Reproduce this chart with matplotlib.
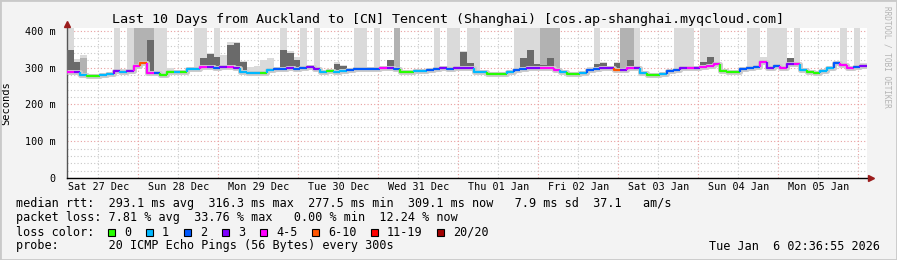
import matplotlib.pyplot as plt
import matplotlib.dates as mdates
from matplotlib.collections import LineCollection
from matplotlib.patches import Rectangle
from datetime import datetime, timedelta

plt.rcParams['font.family'] = ['DejaVu Sans Mono']

# 2-hour bins over the 10 days
start = datetime(2025, 12, 27, 2, 36, 55)
step = timedelta(hours=2)

median = [289, 288, 281, 277.5, 277.5, 281, 283, 291, 289, 290,
          305, 313, 286, 286, 281, 288, 289, 289, 296, 297,
          301, 302, 300, 302, 302, 298, 289, 286, 286, 286,
          295, 296, 296, 298, 297, 299, 301, 296, 287, 290,
          289, 290, 295, 297, 297, 297, 297, 300, 300, 296,
          287, 288, 290, 291, 294, 297, 299, 297, 299, 300,
          298, 289, 288, 283, 283, 284, 288, 293, 296, 299,
          299, 299, 299, 293, 288, 283, 283, 286, 293, 296,
          299, 299, 294, 295, 299, 298, 285, 280, 280, 284,
          290, 295, 299, 299, 299, 303, 305, 310, 290, 288,
          287, 296, 300, 303, 316, 300, 304, 300, 309, 311,
          293, 288, 286, 292, 299, 312, 308, 300, 302, 306]

# loss colour class per bin (index into loss_colors)
loss = [4, 3, 1, 0, 0, 1, 1, 3, 1, 3,
        4, 5, 4, 2, 0, 0, 1, 0, 1, 1,
        4, 3, 2, 3, 4, 3, 1, 1, 1, 0,
        1, 2, 2, 3, 2, 2, 3, 3, 1, 0,
        1, 1, 2, 2, 2, 2, 2, 4, 3, 2,
        0, 0, 1, 1, 2, 2, 3, 2, 3, 3,
        3, 1, 1, 0, 0, 0, 1, 2, 2, 3,
        3, 4, 4, 4, 1, 0, 0, 1, 2, 2,
        3, 3, 5, 3, 4, 3, 1, 0, 0, 1,
        2, 2, 3, 4, 3, 4, 4, 4, 0, 0,
        0, 2, 2, 2, 4, 3, 2, 4, 3, 4,
        1, 0, 0, 1, 1, 2, 4, 4, 2, 3]

# top of light smoke (highest pings)
smoke_hi = [420, 325, 335, 283, 283, 286, 288, 420, 296, 420,
            420, 420, 420, 420, 420, 300, 295, 294, 301, 420,
            420, 340, 420, 335, 370, 370, 318, 302, 305, 320,
            326, 300, 420, 345, 328, 420, 306, 420, 292, 296,
            315, 307, 300, 420, 420, 302, 420, 305, 322, 420,
            292, 293, 295, 296, 299, 420, 304, 420, 420, 345,
            420, 420, 293, 288, 288, 289, 293, 420, 420, 420,
            420, 420, 420, 420, 293, 288, 288, 291, 302, 420,
            315, 304, 315, 420, 420, 420, 290, 285, 285, 289,
            295, 420, 420, 420, 304, 420, 420, 420, 296, 293,
            292, 302, 420, 420, 330, 420, 420, 420, 327, 420,
            299, 293, 291, 297, 304, 317, 420, 306, 420, 312]

# top of medium-grey smoke (0 = none)
smoke_mid = [0, 0, 326, 0, 0, 0, 0, 0, 0, 0,
             420, 420, 420, 0, 0, 0, 0, 0, 0, 0,
             0, 0, 0, 0, 0, 0, 0, 0, 0, 0,
             0, 0, 0, 0, 0, 0, 0, 0, 0, 0,
             0, 0, 0, 0, 0, 0, 0, 0, 0, 420,
             0, 0, 0, 0, 0, 0, 0, 0, 0, 0,
             0, 0, 0, 0, 0, 0, 0, 0, 0, 0,
             0, 420, 420, 420, 0, 0, 0, 0, 0, 0,
             0, 0, 0, 420, 420, 0, 0, 0, 0, 0,
             0, 0, 0, 0, 0, 0, 0, 0, 0, 0,
             0, 0, 0, 0, 0, 0, 0, 0, 0, 0,
             0, 0, 0, 0, 0, 0, 0, 0, 0, 0]

# top of dark smoke (0 = none)
smoke_dark = [348, 316, 0, 0, 0, 0, 0, 0, 0, 0,
              0, 0, 375, 0, 0, 0, 0, 0, 0, 0,
              326, 337, 329, 0, 362, 367, 316, 0, 0, 0,
              0, 0, 348, 340, 321, 0, 0, 0, 0, 0,
              310, 305, 0, 302, 0, 0, 0, 0, 321, 0,
              0, 0, 0, 0, 0, 0, 0, 0, 0, 343,
              313, 0, 0, 0, 0, 0, 0, 0, 326, 348,
              310, 307, 326, 0, 0, 0, 0, 0, 0, 310,
              313, 0, 313, 0, 321, 0, 0, 0, 0, 0,
              0, 0, 0, 0, 0, 316, 329, 0, 0, 0,
              0, 0, 0, 0, 0, 0, 0, 0, 326, 316,
              0, 0, 0, 0, 0, 0, 0, 0, 0, 0]

loss_colors = ['#26ff00', '#00b8ff', '#0059ff', '#7e00ff', '#ff00ff',
               '#ff5500', '#ff0000', '#a10000']
loss_labels = ['0', '1', '2', '3', '4-5', '6-10', '11-19', '20/20']

y_ticks = [0, 100, 200, 300, 400]
y_labels = ['0', '100 m', '200 m', '300 m', '400 m']

title = 'Last 10 Days from Auckland to [CN] Tencent (Shanghai) [cos.ap-shanghai.myqcloud.com]'
line_rtt = 'median rtt:  293.1 ms avg  316.3 ms max  277.5 ms min  309.1 ms now   7.9 ms sd  37.1   am/s'
line_loss = 'packet loss: 7.81 % avg  33.76 % max   0.00 % min  12.24 % now'
line_probe = 'probe:       20 ICMP Echo Pings (56 Bytes) every 300s'
stamp = 'Tue Jan  6 02:36:55 2026'

W, H = 897, 260
bg = '#f3f3f3'


def fx(x):
    return x / W


def fy(y):
    return 1 - y / H


fig = plt.figure(figsize=(W / 100, H / 100), dpi=100, facecolor=bg)
ax = fig.add_axes([fx(67), fy(178), 800 / W, 150 / H])
ax.set_facecolor('white')

t_left = [mdates.date2num(start + i * step) for i in range(len(median))]
width = mdates.date2num(start + step) - mdates.date2num(start)

# smoke
ax.bar(t_left, [h - m for h, m in zip(smoke_hi, median)], width=width,
       bottom=median, align='edge', color='#dadada', linewidth=0, zorder=2)
mid_x = [t for t, v in zip(t_left, smoke_mid) if v > 0]
mid_h = [v - m for v, m in zip(smoke_mid, median) if v > 0]
mid_b = [m for v, m in zip(smoke_mid, median) if v > 0]
ax.bar(mid_x, mid_h, width=width, bottom=mid_b, align='edge',
       color='#b2b2b2', linewidth=0, zorder=3)
dk_x = [t for t, v in zip(t_left, smoke_dark) if v > 0]
dk_h = [v - m for v, m in zip(smoke_dark, median) if v > 0]
dk_b = [m for v, m in zip(smoke_dark, median) if v > 0]
ax.bar(dk_x, dk_h, width=width, bottom=dk_b, align='edge',
       color='#6a6a6a', linewidth=0, zorder=4)

# thin smoke around the median
ax.step(t_left + [t_left[-1] + width], median + [median[-1]], where='post',
        color='#cccccc', lw=3.6, zorder=5, solid_capstyle='butt')

# median line coloured by loss
segs = []
for i, m in enumerate(median):
    prev = median[i - 1] if i > 0 else m
    segs.append([(t_left[i], prev), (t_left[i], m), (t_left[i] + width, m)])
lc = LineCollection(segs, colors=[loss_colors[k] for k in loss], linewidths=1.6, zorder=6)
ax.add_collection(lc)

# axes
ax.set_xlim(mdates.date2num(start), mdates.date2num(start + timedelta(days=10)))
ax.set_ylim(0, 408)
ax.set_yticks(y_ticks)
ax.set_yticklabels(y_labels)
ax.set_yticks(range(0, 401, 20), minor=True)
ax.xaxis.set_major_locator(mdates.HourLocator(byhour=12))
ax.xaxis.set_major_formatter(mdates.DateFormatter('%a %d %b'))
ax.xaxis.set_minor_locator(mdates.DayLocator())
ax.tick_params(axis='both', which='both', length=0, labelsize=7.3, colors='#000000')
ax.tick_params(axis='y', pad=8)
ax.tick_params(axis='x', pad=3)

ax.grid(True, which='major', axis='y', color='#e8a0a0', linestyle=(0, (1, 2)), lw=0.8, zorder=1)
ax.grid(True, which='minor', axis='y', color='#c8c8c8', linestyle=(0, (1, 2)), lw=0.8, zorder=1)
ax.grid(True, which='major', axis='x', color='#c8c8c8', linestyle=(0, (1, 2)), lw=0.8, zorder=1)
ax.grid(True, which='minor', axis='x', color='#e8a0a0', linestyle=(0, (1, 2)), lw=0.8, zorder=1)
ax.set_axisbelow(True)

for s in ['top', 'right']:
    ax.spines[s].set_visible(False)
ax.spines['left'].set_color('#555555')
ax.spines['bottom'].set_color('#000000')
ax.spines['left'].set_linewidth(1)
ax.spines['bottom'].set_linewidth(1)

# arrows on the axes
ax.plot([0], [1.025], marker='^', color='#9b1c1c', markersize=4.5,
        transform=ax.transAxes, clip_on=False, zorder=10)
ax.plot([1.005], [0], marker='>', color='#9b1c1c', markersize=4.5,
        transform=ax.transAxes, clip_on=False, zorder=10)

ax.set_ylabel('Seconds', fontsize=7.5, labelpad=8)
ax.yaxis.set_label_coords(-(67 - 11) / 800, 0.5)

# title and side text
fig.text(fx(448), fy(19), title, ha='center', va='center', fontsize=9.6)
fig.text(fx(887), fy(6), 'RRDTOOL / TOBI OETIKER', rotation=270, ha='center', va='top',
         fontsize=5.6, color='#b4b4b4')

# legend
fs = 8.5
fig.text(fx(16), fy(204), line_rtt, ha='left', va='center', fontsize=fs)
fig.text(fx(16), fy(218), line_loss, ha='left', va='center', fontsize=fs)
fig.text(fx(16), fy(232), 'loss color:', ha='left', va='center', fontsize=fs)
x = 108
for col, lab in zip(loss_colors, loss_labels):
    fig.patches.append(Rectangle((fx(x), fy(236)), 7 / W, 7 / H, facecolor=col,
                                 edgecolor='black', lw=0.8, transform=fig.transFigure))
    fig.text(fx(x + 16), fy(232), lab, ha='left', va='center', fontsize=fs)
    x += 16 + 7 * len(lab) + 15
fig.text(fx(16), fy(246), line_probe, ha='left', va='center', fontsize=fs)
fig.text(fx(880), fy(246), stamp, ha='right', va='center', fontsize=fs)

# outer frame
fig.patches.append(Rectangle((0, 0), 1, 1, fill=False, edgecolor='#c9c9c9', lw=2,
                             transform=fig.transFigure))

fig.savefig('out.png', dpi=100, facecolor=bg)
